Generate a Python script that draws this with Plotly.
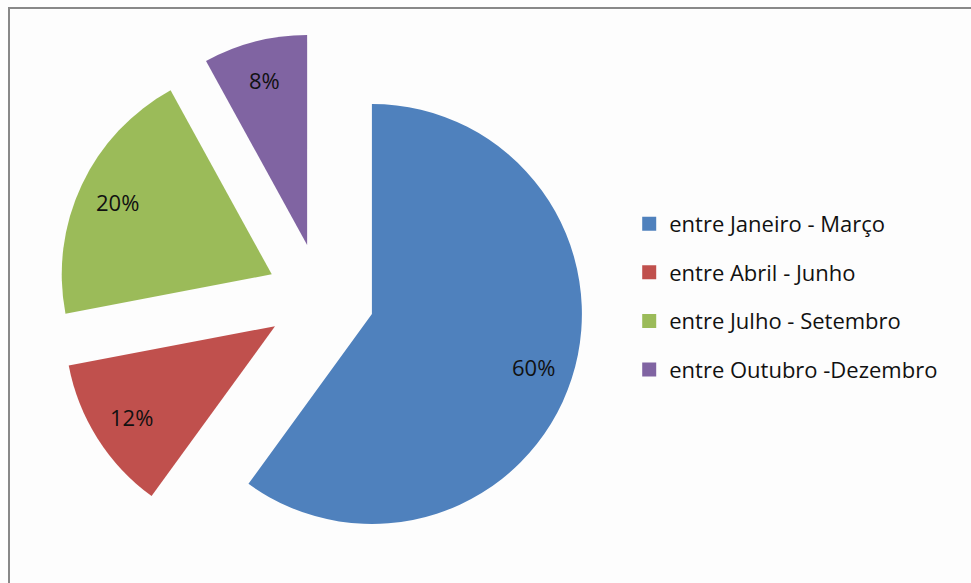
import math
import plotly.graph_objects as go

labels = ["entre Janeiro - Março", "entre Abril - Junho", "entre Julho - Setembro", "entre Outubro -Dezembro"]
values = [60, 12, 20, 8]
colors = ["#4F81BD", "#C0504D", "#9BBB59", "#8064A2"]
pull = 0.257

FONT = "Open Sans"
W, H = 971, 583
DOM_X = [0.0583, 0.602]
DOM_Y = [0.0372, 0.9429]
LABEL_R = 0.81  # label distance from slice apex, as a fraction of the radius

fig = go.Figure()
fig.add_trace(go.Pie(
    labels=labels, values=values, sort=False, direction="clockwise", rotation=0,
    pull=[pull] * len(values), marker=dict(colors=colors, line=dict(width=0)),
    textinfo="none", domain=dict(x=DOM_X, y=DOM_Y),
    showlegend=False, hoverinfo="label+percent",
))

# percent labels placed along each slice's mid-angle (Excel style)
cx = (DOM_X[0] + DOM_X[1]) / 2
cy = (DOM_Y[0] + DOM_Y[1]) / 2
r_px = min((DOM_X[1] - DOM_X[0]) * W, (DOM_Y[1] - DOM_Y[0]) * H) / (2 * (1 + pull))
total = sum(values)
cum = 0
for v in values:
    theta = 2 * math.pi * (cum + v / 2) / total
    cum += v
    d = (pull + LABEL_R) * r_px
    fig.add_annotation(
        x=cx + d * math.sin(theta) / W, y=cy + d * math.cos(theta) / H,
        xref="paper", yref="paper", showarrow=False,
        xanchor="center", yanchor="middle",
        text=f"{round(100 * v / total)}%",
        font=dict(family=FONT, size=22, color="#111111"),
    )

# legend entries (one per category) so that item spacing can match the original
for i, (lab, col) in enumerate(zip(labels, colors)):
    fig.add_trace(go.Scatter(
        x=[None], y=[None], mode="markers", name=lab,
        marker=dict(symbol="square", size=14, color=col),
        legendgroup=f"g{i}", showlegend=True, hoverinfo="skip",
    ))

fig.update_layout(
    width=W, height=H,
    margin=dict(l=0, r=0, t=0, b=0),
    paper_bgcolor="#FDFDFD", plot_bgcolor="rgba(0,0,0,0)",
    xaxis=dict(visible=False), yaxis=dict(visible=False),
    legend=dict(x=0.648, y=0.652, xanchor="left", yanchor="top",
                font=dict(family=FONT, size=22, color="#111111"),
                tracegroupgap=17, bgcolor="rgba(0,0,0,0)"),
    shapes=[dict(type="rect", xref="paper", yref="paper",
                 x0=9/W, x1=1.02, y0=-0.02, y1=1-8/H,
                 line=dict(color="#888888", width=2), fillcolor="rgba(0,0,0,0)")],
)

fig.write_html("out.html")
